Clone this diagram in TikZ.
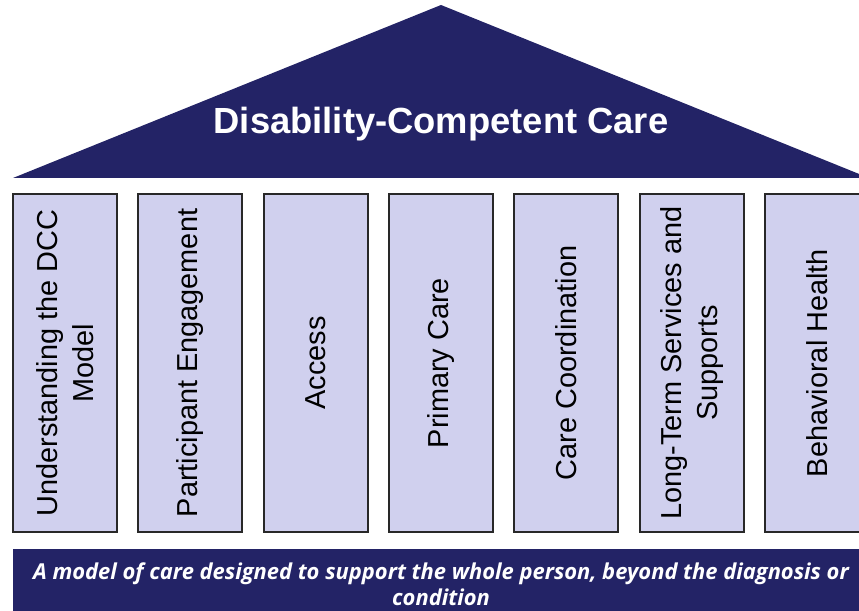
\documentclass[tikz,border=0pt]{standalone}
\usepackage{fontspec}
\setmainfont{Liberation Sans}
\newfontfamily\bannerfont{Open Sans}
\definecolor{navy}{RGB}{35,35,102}
\definecolor{pillarfill}{RGB}{208,208,238}
\definecolor{pillaredge}{RGB}{40,40,40}
\tikzset{
  pillar/.style={draw=pillaredge, line width=1.2bp, fill=pillarfill, rectangle, rotate=90,
    minimum width=338bp, minimum height=104bp, inner sep=0pt, align=center,
    font=\fontsize{29}{36}\selectfont, text=black},
  rooftitle/.style={text=white, font=\bfseries\fontsize{36.5}{40}\selectfont},
  bannertext/.style={text=white, align=center, font=\bannerfont\bfseries\itshape\fontsize{22}{26}\selectfont}
}
\begin{document}
\begin{tikzpicture}[x=1bp,y=1bp]
\useasboundingbox (0,0) rectangle (859,611);
\clip (0,0) rectangle (859,611);
% roof
\fill[navy] (13,433) -- (441,606) -- (869,433) -- cycle;
\node[rooftitle] (title) at (441,487) {Disability-Competent Care};
% pillars
\node[pillar] (p1) at (65,248) {Understanding the DCC\\Model};
\node[pillar] (p2) at (190,248) {Participant Engagement};
\node[pillar] (p3) at (316,248) {Access};
\node[pillar] (p4) at (441,248) {Primary Care};
\node[pillar] (p5) at (566,248) {Care Coordination};
\node[pillar] (p6) at (692,248) {Long-Term Services and\\Supports};
\node[pillar] (p7) at (817,248) {Behavioral Health};
% banner
\fill[navy] (13,0) rectangle (869,62);
\node[bannertext] (banner) at (441,27) {A model of care designed to support the whole person, beyond the diagnosis or\\condition};
\end{tikzpicture}
\end{document}
